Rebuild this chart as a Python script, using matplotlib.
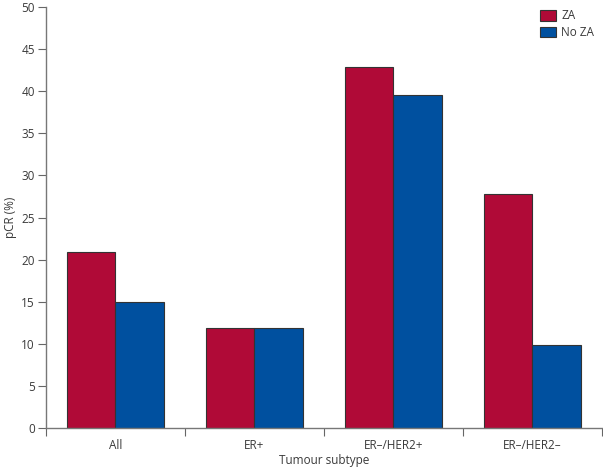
import numpy as np
import matplotlib
matplotlib.use("Agg")
import matplotlib.pyplot as plt

# ---------- DATA ----------
subtypes = ["All", "ER+", "ER\u2013/HER2+", "ER\u2013/HER2\u2013"]
za = [20.9, 11.9, 42.9, 27.8]
no_za = [15.0, 11.9, 39.6, 9.9]
yticks = [0, 5, 10, 15, 20, 25, 30, 35, 40, 45, 50]

red = "#B00A37"
blue = "#00509F"
txt = "#3a3a3a"

plt.rcParams["font.family"] = ["Open Sans", "DejaVu Sans"]

fig = plt.figure(figsize=(6.03, 4.73), dpi=100)
ax = fig.add_axes([0.0763, 0.0951, 0.9217, 0.8899])

centers = np.arange(len(subtypes)) + 0.5
w = 0.35
ax.bar(centers - w / 2, za, w, color=red, edgecolor="#333333", linewidth=0.8, label="ZA")
ax.bar(centers + w / 2, no_za, w, color=blue, edgecolor="#333333", linewidth=0.8, label="No ZA")

ax.set_xlim(0, len(subtypes))
ax.set_ylim(0, 50)

# group separators as major ticks, labels as minor ticks
ax.set_xticks(np.arange(len(subtypes) + 1))
ax.set_xticklabels([])
ax.set_xticks(centers, minor=True)
ax.set_xticklabels(subtypes, minor=True)
ax.tick_params(axis="x", which="major", direction="out", length=6, color="#666666")
ax.tick_params(axis="x", which="minor", length=0, pad=8, labelsize=8.5, labelcolor=txt)

ax.set_yticks(yticks)
ax.tick_params(axis="y", direction="out", length=6, color="#666666", pad=2,
               labelsize=8.5, labelcolor=txt)

for s in ["top", "right"]:
    ax.spines[s].set_visible(False)
for s in ["left", "bottom"]:
    ax.spines[s].set_color("#777777")
    ax.spines[s].set_linewidth(1.0)

ax.set_ylabel("pCR (%)", fontsize=8.5, color=txt, labelpad=3)
ax.set_xlabel("Tumour subtype", fontsize=8.5, color=txt, labelpad=1)

leg = ax.legend(loc="upper right", bbox_to_anchor=(1.005, 1.02), frameon=False,
                fontsize=8.5, handlelength=1.4, handleheight=1.0,
                handletextpad=0.4, labelspacing=0.3)
for t in leg.get_texts():
    t.set_color(txt)

fig.savefig("out.png", dpi=100)
